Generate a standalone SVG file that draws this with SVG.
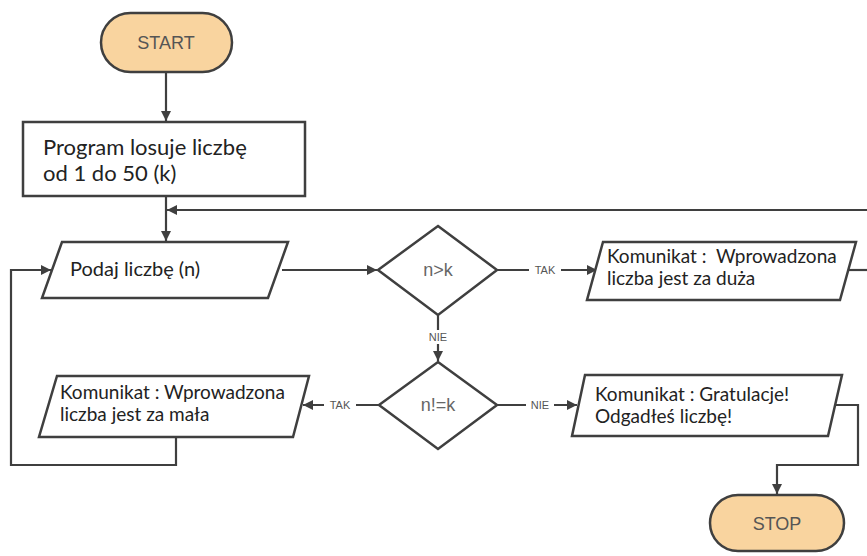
<svg xmlns="http://www.w3.org/2000/svg" width="867" height="556" viewBox="0 0 867 556">
<style>
.term{fill:#F9D49F;stroke:#3f3f3f;stroke-width:2.5}
.box{fill:#ffffff;stroke:#3f3f3f;stroke-width:2.5}
.ln{fill:none;stroke:#3f3f3f;stroke-width:2.2}
.tt{font-family:"Liberation Sans",Arial,sans-serif;font-size:18px;fill:#555;text-anchor:middle}
.tx{font-family:Lato,"Open Sans",sans-serif;font-size:19px;fill:#222}
.dt{font-family:"Liberation Sans",Arial,sans-serif;font-size:18px;fill:#666;text-anchor:middle}
.lb{font-family:"Liberation Sans",Arial,sans-serif;font-size:11px;fill:#555;text-anchor:middle}
</style>
<defs>
<marker id="ah" viewBox="0 0 10 10" refX="10" refY="5" markerWidth="10" markerHeight="10" markerUnits="userSpaceOnUse" orient="auto">
<path d="M0,0 L10,5 L0,10 z" fill="#3f3f3f"/>
</marker>
</defs>
<g id="connectors">
<path class="ln" d="M166,72 V121" marker-end="url(#ah)"/>
<path class="ln" d="M166,196 V241" marker-end="url(#ah)"/>
<path class="ln" d="M867,210 H167" marker-end="url(#ah)"/>
<path class="ln" d="M282,270 H377" marker-end="url(#ah)"/>
<path class="ln" d="M497,270 H597" marker-end="url(#ah)"/>
<path class="ln" d="M849,270 H867"/>
<path class="ln" d="M438,315 V361" marker-end="url(#ah)"/>
<path class="ln" d="M379,405 H303" marker-end="url(#ah)"/>
<path class="ln" d="M497,405 H577" marker-end="url(#ah)"/>
<path class="ln" d="M176,437 V465 H11 V270 H51" marker-end="url(#ah)"/>
<path class="ln" d="M835,405 H858 V465 H777 V494" marker-end="url(#ah)"/>
<rect x="529" y="263" width="32" height="14" fill="#fff"/>
<text class="lb" x="545" y="274">TAK</text>
<rect x="424" y="330" width="28" height="14" fill="#fff"/>
<text class="lb" x="438" y="341">NIE</text>
<rect x="324" y="398" width="32" height="14" fill="#fff"/>
<text class="lb" x="340" y="409">TAK</text>
<rect x="526" y="398" width="28" height="14" fill="#fff"/>
<text class="lb" x="540" y="409">NIE</text>
</g>
<g id="start">
<rect class="term" x="101" y="13" width="131" height="59" rx="29.5"/>
<text class="tt" x="166" y="49">START</text>
</g>
<g id="program">
<rect class="box" x="23" y="122" width="282" height="74"/>
<text class="tx" x="43" y="155" style="font-size:22px">Program losuje liczbę</text>
<text class="tx" x="43" y="181" style="font-size:22px">od 1 do 50 (k)</text>
</g>
<g id="podaj">
<polygon class="box" points="62,242 288,242 268,298 42,298"/>
<text class="tx" x="70" y="276" style="font-size:20px">Podaj liczbę (n)</text>
</g>
<g id="cond1">
<polygon class="box" points="438,226 497,270 438,315 378,270"/>
<text class="dt" x="438" y="276">n&gt;k</text>
</g>
<g id="duza">
<polygon class="box" points="603,242 856,242 840,300 587,300"/>
<text class="tx" x="607" y="263">Komunikat :&#160; Wprowadzona</text>
<text class="tx" x="607" y="285">liczba jest za duża</text>
</g>
<g id="cond2">
<polygon class="box" points="438,362 497,405 438,449 379,405"/>
<text class="dt" x="438" y="411">n!=k</text>
</g>
<g id="mala">
<polygon class="box" points="57,376 309,376 293,437 39,437"/>
<text class="tx" x="60" y="399">Komunikat : Wprowadzona</text>
<text class="tx" x="60" y="421">liczba jest za mała</text>
</g>
<g id="gratulacje">
<polygon class="box" points="585,375 842,375 828,436 572,436"/>
<text class="tx" x="595" y="401">Komunikat : Gratulacje!</text>
<text class="tx" x="595" y="423">Odgadłeś liczbę!</text>
</g>
<g id="stop">
<rect class="term" x="710" y="495" width="134" height="56" rx="28"/>
<text class="tt" x="777" y="530">STOP</text>
</g>
</svg>
